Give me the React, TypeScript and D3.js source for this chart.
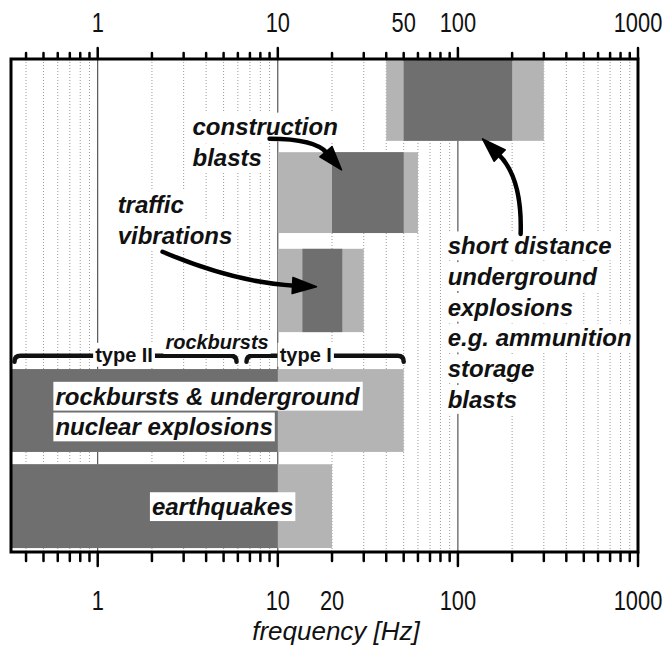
import React, { useEffect, useRef } from "react";
import * as d3 from "d3";

// Frequency bands of ground-vibration sources (Hz)
const sources = [
  "short distance underground explosions",
  "construction blasts",
  "traffic vibrations",
  "rockbursts & underground nuclear explosions",
  "earthquakes",
];
const broadLow = [40, 10, 10, 0.1, 0.1];
const broadHigh = [300, 60, 30, 50, 20];
const coreLow = [50, 20, 13.7, 0.1, 0.1];
const coreHigh = [200, 50, 22.8, 10, 10];

const topTickLabels = [1, 10, 50, 100, 1000];
const bottomTickLabels = [1, 10, 20, 100, 1000];
const majorTicks = [1, 10, 100, 1000];

// Rockburst type brackets (Hz)
const bracketNames = ["type II", "type I"];
const bracketLow = [0.345, 6.7];
const bracketHigh = [5.9, 50];
const bracketLabelAt = [1.4, 14.3];

// ---- layout ----
const W = 670;
const H = 653;
const X0 = 11;
const X1 = 638;
const Y0 = 59;
const Y1 = 552;
// vertical position of each row in plot units (0 = bottom, 100 = top)
const rowTop = [100, 81.1, 61.5, 37.1, 17.8];
const rowBottom = [83.4, 64.7, 44.6, 20.3, 0.8];
const bracketY = 39.8;

const DARK = "#6f6f6f";
const LIGHT = "#b4b4b4";

type Block = { lines: string[]; f: number; v: number; size: number; style: string; weight: string };
const labelBlocks: Block[] = [
  { lines: ["construction", "blasts"], f: 3.36, v: 86.2, size: 24, style: "italic", weight: "bold" },
  { lines: ["traffic", "vibrations"], f: 1.29, v: 70.4, size: 24, style: "italic", weight: "bold" },
  {
    lines: ["short distance", "underground", "explosions", "e.g. ammunition", "storage", "blasts"],
    f: 87.7, v: 62.1, size: 24, style: "italic", weight: "bold",
  },
  { lines: ["rockbursts & underground", "nuclear explosions"], f: 0.582, v: 31.6, size: 24, style: "italic", weight: "bold" },
  { lines: ["earthquakes"], f: 2.0, v: 9.2, size: 24, style: "italic", weight: "bold" },
];

// arrows: start, control, end in (Hz, plot units)
const arrows = [
  [[9.0, 83.8], [16.6, 83.2], [22.6, 77.5]],
  [[2.29, 60.9], [6.13, 54.6], [16.4, 53.8]],
  [[223, 64.5], [220, 76.5], [137, 83.8]],
];

const FONT = "'Liberation Sans', Arial, Helvetica, sans-serif";

export default function App() {
  const ref = useRef<SVGSVGElement>(null);

  useEffect(() => {
    const svg = d3.select(ref.current);
    svg.selectAll("*").remove();

    const x = d3.scaleLog().domain([0.33, 1000]).range([X0, X1]).clamp(true);
    const y = d3.scaleLinear().domain([0, 100]).range([Y1, Y0]);

    svg.append("rect").attr("width", W).attr("height", H).attr("fill", "white");

    // grid
    const minor: number[] = [];
    for (let e = -1; e < 3; e++) {
      for (let m = 2; m <= 9; m++) {
        const v = m * Math.pow(10, e);
        if (v > 0.33 && v < 1000) minor.push(v);
      }
    }
    const grid = svg.append("g");
    grid
      .selectAll("line.minor")
      .data(minor)
      .join("line")
      .attr("x1", (d) => x(d))
      .attr("x2", (d) => x(d))
      .attr("y1", Y0)
      .attr("y2", Y1)
      .attr("stroke", "#9a9a9a")
      .attr("stroke-width", 1)
      .attr("stroke-dasharray", "1,2");
    grid
      .selectAll("line.major")
      .data([1, 10, 100])
      .join("line")
      .attr("x1", (d) => x(d))
      .attr("x2", (d) => x(d))
      .attr("y1", Y0)
      .attr("y2", Y1)
      .attr("stroke", "#333")
      .attr("stroke-width", 1);

    // bars
    const bars = svg.append("g");
    sources.forEach((_, i) => {
      bars
        .append("rect")
        .attr("x", x(broadLow[i]))
        .attr("width", x(broadHigh[i]) - x(broadLow[i]))
        .attr("y", y(rowTop[i]))
        .attr("height", y(rowBottom[i]) - y(rowTop[i]))
        .attr("fill", LIGHT);
      bars
        .append("rect")
        .attr("x", x(coreLow[i]))
        .attr("width", x(coreHigh[i]) - x(coreLow[i]))
        .attr("y", y(rowTop[i]))
        .attr("height", y(rowBottom[i]) - y(rowTop[i]))
        .attr("fill", DARK);
    });

    // boxed text helper
    const boxed = (
      g: d3.Selection<SVGGElement, unknown, null, undefined>,
      txt: string,
      px: number,
      cy: number,
      size: number,
      style: string,
      weight: string,
      anchor: string
    ) => {
      const rect = g.append("rect").attr("fill", "white");
      const t = g
        .append("text")
        .attr("x", px)
        .attr("y", cy + size * 0.35)
        .attr("font-family", FONT)
        .attr("font-size", size)
        .attr("font-style", style)
        .attr("font-weight", weight)
        .attr("text-anchor", anchor)
        .attr("fill", "#111")
        .text(txt);
      const bb = (t.node() as SVGTextElement).getBBox();
      const h = size * 1.2;
      rect
        .attr("x", bb.x - 2)
        .attr("width", bb.width + 4)
        .attr("y", cy - h / 2)
        .attr("height", h);
    };

    // labels
    const labels = svg.append("g");
    labelBlocks.forEach((b) => {
      b.lines.forEach((line, k) => {
        const cy = y(b.v) + k * b.size * 1.28;
        boxed(labels.append("g"), line, x(b.f), cy, b.size, b.style, b.weight, "start");
      });
    });

    // rockburst type brackets
    const br = svg.append("g");
    const by = y(bracketY);
    bracketNames.forEach((_, i) => {
      const a = x(bracketLow[i]);
      const b = x(bracketHigh[i]);
      br.append("path")
        .attr("d", `M${a},${by + 6} Q${a},${by} ${a + 6},${by} L${b - 6},${by} Q${b},${by} ${b},${by + 6}`)
        .attr("fill", "none")
        .attr("stroke", "#111")
        .attr("stroke-width", 4.5)
        .attr("stroke-linecap", "round");
    });
    bracketNames.forEach((name, i) => {
      boxed(br.append("g"), name, x(bracketLabelAt[i]), by - 1, 20, "normal", "bold", "middle");
    });
    boxed(br.append("g"), "rockbursts", x(4.6), y(42.6), 20, "italic", "bold", "middle");

    // arrows
    const ar = svg.append("g");
    arrows.forEach((a) => {
      const [p0, c, p2] = a.map(([f, v]) => [x(f), y(v)]);
      const dx = p2[0] - c[0];
      const dy = p2[1] - c[1];
      const len = Math.hypot(dx, dy);
      const ux = dx / len;
      const uy = dy / len;
      const hl = 24;
      const hw = 8;
      const base = [p2[0] - ux * hl, p2[1] - uy * hl];
      const c2 = [c[0] - ux * 4, c[1] - uy * 4];
      ar.append("path")
        .attr("d", `M${p0[0]},${p0[1]} Q${c2[0]},${c2[1]} ${base[0] + ux * 2},${base[1] + uy * 2}`)
        .attr("fill", "none")
        .attr("stroke", "#000")
        .attr("stroke-width", 4.5)
        .attr("stroke-linecap", "round");
      ar.append("path")
        .attr(
          "d",
          `M${p2[0]},${p2[1]} L${base[0] - uy * hw},${base[1] + ux * hw} L${base[0] + uy * hw},${base[1] - ux * hw} Z`
        )
        .attr("fill", "#000")
        .attr("stroke", "#000")
        .attr("stroke-width", 1.5)
        .attr("stroke-linejoin", "round");
    });

    // frame
    svg.append("rect")
      .attr("x", X0)
      .attr("y", Y0)
      .attr("width", X1 - X0)
      .attr("height", Y1 - Y0)
      .attr("fill", "none")
      .attr("stroke", "#000")
      .attr("stroke-width", 3);

    // ticks on top and bottom
    const allTicks = minor.concat(majorTicks);
    const tk = svg.append("g");
    allTicks.forEach((t) => {
      const isMajor = majorTicks.includes(t);
      const lenTop = isMajor ? 11 : 6;
      const lenBot = isMajor ? 14 : 9;
      tk.append("line")
        .attr("x1", x(t)).attr("x2", x(t))
        .attr("y1", Y0).attr("y2", Y0 - lenTop)
        .attr("stroke", "#000").attr("stroke-width", 2.5).attr("stroke-linecap", "round");
      tk.append("line")
        .attr("x1", x(t)).attr("x2", x(t))
        .attr("y1", Y1).attr("y2", Y1 + lenBot)
        .attr("stroke", "#000").attr("stroke-width", 2.5).attr("stroke-linecap", "round");
    });

    // condensed numerals for the frequency scale
    const tickLabel = (v: number, yy: number) => {
      tk.append("g")
        .attr("transform", `translate(${x(v)},${yy}) scale(0.78,1)`)
        .append("text")
        .attr("text-anchor", "middle")
        .attr("font-family", FONT)
        .attr("font-size", 28)
        .attr("fill", "#111")
        .text(String(v));
    };
    topTickLabels.forEach((v) => tickLabel(v, 32));
    bottomTickLabels.forEach((v) => tickLabel(v, 610));

    svg.append("text")
      .attr("x", 336)
      .attr("y", 640)
      .attr("text-anchor", "middle")
      .attr("font-family", FONT)
      .attr("font-size", 26)
      .attr("font-style", "italic")
      .attr("fill", "#111")
      .text("frequency [Hz]");
  }, []);

  return (
    <svg
      ref={ref}
      width={W}
      height={H}
      viewBox={`0 0 ${W} ${H}`}
      style={{ display: "block", position: "absolute", left: 0, top: 0 }}
    />
  );
}
